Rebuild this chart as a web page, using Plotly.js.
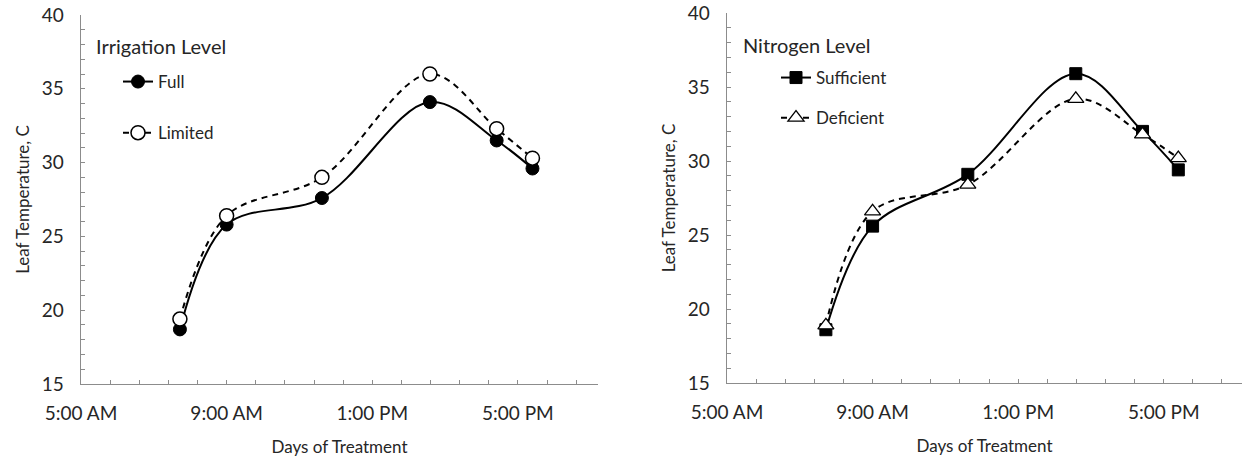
<!DOCTYPE html>
<html>
<head>
<meta charset="utf-8">
<script src="https://cdn.plot.ly/plotly-3.0.1.min.js"></script>
<style>html,body{margin:0;padding:0;background:#fff;}#chart{width:1242px;height:461px;}</style>
</head>
<body>
<div id="chart"></div>
<script>
// Sampling times (same day)
const times = ['2020-01-01 07:43', '2020-01-01 09:00', '2020-01-01 11:37', '2020-01-01 14:35', '2020-01-01 16:25', '2020-01-01 17:24'];

// Irrigation level
const irrigationFull    = [18.7, 25.8, 27.6, 34.1, 31.5, 29.6];
const irrigationLimited = [19.4, 26.4, 29.0, 36.0, 32.3, 30.3];

// Nitrogen level
const nitrogenSufficient = [18.6, 25.6, 29.1, 35.9, 32.0, 29.4];
const nitrogenDeficient  = [18.9, 26.6, 28.4, 34.2, 31.8, 30.2];

const seriesNames = ['Full', 'Limited', 'Sufficient', 'Deficient'];
const panelTitles = ['Irrigation Level', 'Nitrogen Level'];
const xTitle = 'Days of Treatment';
const yTitle = 'Leaf Temperature, C';

const FONT = 'Lato, "Open Sans", sans-serif';
const TXT = '#262626';
const AX = '#8c8c8c';

const traces = [
  {x: times, y: irrigationFull, name: seriesNames[0], type: 'scatter', mode: 'lines+markers',
   line: {color: '#000', width: 2, shape: 'spline', smoothing: 1},
   marker: {symbol: 'circle', size: 13, color: '#000', line: {color: '#000', width: 1}},
   xaxis: 'x', yaxis: 'y', legend: 'legend', legendgroup: 'a'},
  {x: times, y: irrigationLimited, name: seriesNames[1], type: 'scatter', mode: 'lines+markers',
   line: {color: '#000', width: 2, dash: '6px,5px', shape: 'spline', smoothing: 1},
   marker: {symbol: 'circle', size: 14, color: '#fff', line: {color: '#000', width: 1.5}},
   xaxis: 'x', yaxis: 'y', legend: 'legend', legendgroup: 'b'},
  {x: times, y: nitrogenSufficient, name: seriesNames[2], type: 'scatter', mode: 'lines+markers',
   line: {color: '#000', width: 2, shape: 'spline', smoothing: 1},
   marker: {symbol: 'square', size: 12, color: '#000', line: {color: '#000', width: 1}},
   xaxis: 'x2', yaxis: 'y2', legend: 'legend2', legendgroup: 'c'},
  {x: times, y: nitrogenDeficient, name: seriesNames[3], type: 'scatter', mode: 'lines+markers',
   line: {color: '#000', width: 2, dash: '6px,5px', shape: 'spline', smoothing: 1},
   marker: {symbol: 'triangle-up', size: 14, color: '#fff', line: {color: '#000', width: 1.3}},
   xaxis: 'x2', yaxis: 'y2', legend: 'legend2', legendgroup: 'd'}
];

function xax(domain, rmax) {
  return {
    domain: domain, type: 'date',
    range: ['2020-01-01 05:00', rmax],
    tick0: '2020-01-01 05:00', dtick: 4 * 3600000,
    tickformat: '%-I:%M %p',
    ticks: 'inside', ticklen: 4, tickcolor: AX, tickwidth: 1,
    minor: {tick0: '2020-01-01 05:00', dtick: 48 * 60000, ticks: 'inside', ticklen: 4, tickcolor: AX, showgrid: false},
    showline: true, linecolor: AX, linewidth: 1.3,
    showgrid: false, zeroline: false,
    ticklabelstandoff: 12,
    tickfont: {family: FONT, size: 19, color: TXT},
    title: {text: xTitle, font: {family: FONT, size: 17, color: TXT}, standoff: 18},
    fixedrange: true
  };
}
function yax(domain, anchor) {
  return {
    domain: domain, anchor: anchor,
    range: [15, 40], dtick: 5, tick0: 15,
    ticks: 'inside', ticklen: 4, tickcolor: AX, tickwidth: 1,
    minor: {dtick: 1, ticks: 'inside', ticklen: 4, tickcolor: AX, showgrid: false},
    showline: true, linecolor: AX, linewidth: 1.3,
    showgrid: false, zeroline: false,
    ticklabelstandoff: 12,
    tickfont: {family: FONT, size: 19, color: TXT},
    title: {text: yTitle, font: {family: FONT, size: 17, color: TXT}, standoff: 8},
    fixedrange: true
  };
}

const xa = xax([81 / 1242, 598 / 1242], '2020-01-01 19:12');
xa.anchor = 'y';
const xa2 = xax([727 / 1242, 1], '2020-01-01 19:09');
xa2.anchor = 'y2';

const layout = {
  width: 1242, height: 461,
  margin: {l: 0, r: 0, t: 0, b: 0},
  paper_bgcolor: '#fff', plot_bgcolor: '#fff',
  font: {family: FONT, color: TXT},
  xaxis: xa,
  yaxis: yax([(461 - 384) / 461, (461 - 15) / 461], 'x'),
  xaxis2: xa2,
  yaxis2: yax([(461 - 383) / 461, (461 - 13) / 461], 'x2'),
  showlegend: true,
  legend: {x: 118 / 1242, y: (461 - 64) / 461, xanchor: 'left', yanchor: 'top',
           bgcolor: 'rgba(0,0,0,0)', traceorder: 'grouped', tracegroupgap: 26,
           font: {family: FONT, size: 17, color: TXT}, itemwidth: 30},
  legend2: {x: 776 / 1242, y: (461 - 60) / 461, xanchor: 'left', yanchor: 'top',
            bgcolor: 'rgba(0,0,0,0)', traceorder: 'grouped', tracegroupgap: 15,
            font: {family: FONT, size: 17, color: TXT}, itemwidth: 30},
  annotations: [
    {text: panelTitles[0], xref: 'paper', yref: 'paper', x: 94 / 1242, y: (461 - 46) / 461,
     xanchor: 'left', yanchor: 'middle', showarrow: false, font: {family: FONT, size: 20, color: TXT}},
    {text: panelTitles[1], xref: 'paper', yref: 'paper', x: 741 / 1242, y: (461 - 45) / 461,
     xanchor: 'left', yanchor: 'middle', showarrow: false, font: {family: FONT, size: 20, color: TXT}}
  ]
};

Plotly.newPlot('chart', traces, layout, {displayModeBar: false, staticPlot: true});
</script>
</body>
</html>
